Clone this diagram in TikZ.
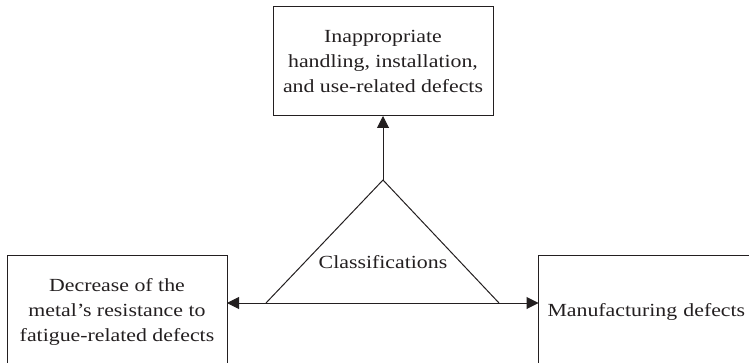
\documentclass[tikz,border=0pt]{standalone}
\usepackage{fontspec}
\setmainfont{Liberation Serif}[FakeStretch=1.18]
\usetikzlibrary{arrows.meta}
\definecolor{ink}{HTML}{231F20}
\begin{document}
\begin{tikzpicture}[x=1pt,y=-1pt,
  box/.style={draw=ink, line width=1pt, text=ink, align=center, inner sep=0pt, outer sep=0pt,
    font=\fontsize{18.5}{25}\selectfont},
  label/.style={text=ink, inner sep=0pt, font=\fontsize{18.5}{25}\selectfont},
  link/.style={draw=ink, line width=1pt, -{Triangle[length=12pt,width=12pt]}},
  twoway/.style={draw=ink, line width=1pt, {Triangle[length=12pt,width=12pt]}-{Triangle[length=12pt,width=12pt]}},
  edge/.style={draw=ink, line width=1pt, line join=miter}]
\useasboundingbox (0,0) rectangle (749,363);
\clip (0,0) rectangle (749,363);
% the three outcome boxes
\node[box, minimum width=220, minimum height=109] (top) at (383,61.5)
  {Inappropriate\\handling, installation,\\and use-related defects};
\node[box, minimum width=220, minimum height=112] (left) at (117,312)
  {Decrease of the\\metal's resistance to\\fatigue-related defects};
\node[box, minimum width=222, minimum height=112, text width=205, align=left, inner xsep=9pt] (right) at (650,312)
  {Manufacturing defects};
% central triangle
\coordinate (apex) at (383,180);
\coordinate (bl) at (266,303);
\coordinate (br) at (499,303);
\draw[edge] (bl) -- (apex) -- (br);
\node[label] (cls) at (383,262) {Classifications};
% connectors
\draw[link] (apex) -- (top.south);
\draw[twoway] (bl -| left.east) -- (br -| right.west);
\end{tikzpicture}
\end{document}
